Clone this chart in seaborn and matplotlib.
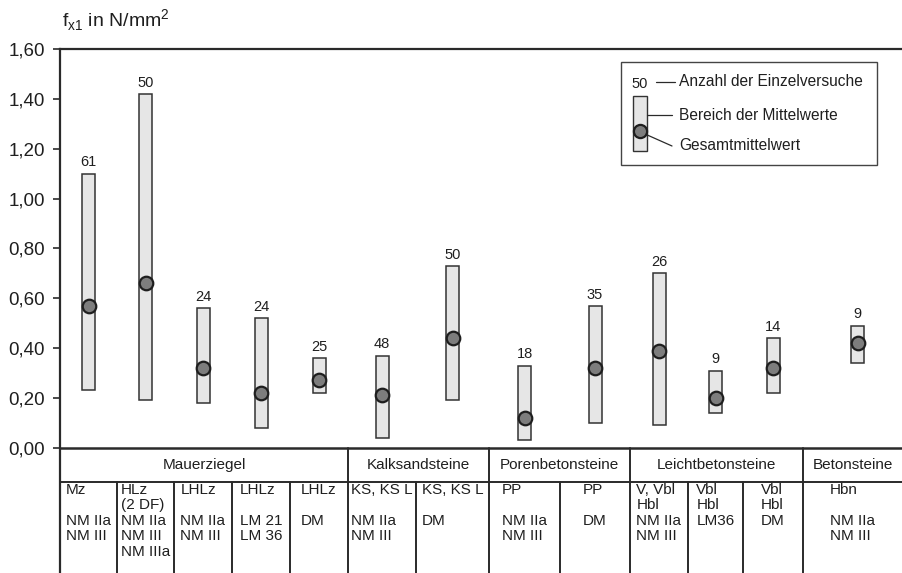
import numpy as np
import pandas as pd
import matplotlib.pyplot as plt
import seaborn as sns

# Daten: Bereich der Mittelwerte und Gesamtmittelwert je Steinart
n_versuche = [61, 50, 24, 24, 25, 48, 50, 18, 35, 26, 9, 14, 9]
bereich_min = [0.23, 0.19, 0.18, 0.08, 0.22, 0.04, 0.19, 0.03, 0.10, 0.09, 0.14, 0.22, 0.34]
bereich_max = [1.10, 1.42, 0.56, 0.52, 0.36, 0.37, 0.73, 0.33, 0.57, 0.70, 0.31, 0.44, 0.49]
mittelwert = [0.57, 0.66, 0.32, 0.22, 0.27, 0.21, 0.44, 0.12, 0.32, 0.39, 0.20, 0.32, 0.42]

gruppen = ['Mauerziegel', 'Kalksandsteine', 'Porenbetonsteine', 'Leichtbetonsteine', 'Betonsteine']
spalten_je_gruppe = [5, 2, 2, 3, 1]
spalten_text = [
    ['Mz', '', 'NM IIa', 'NM III'],
    ['HLz', '(2 DF)', 'NM IIa', 'NM III', 'NM IIIa'],
    ['LHLz', '', 'NM IIa', 'NM III'],
    ['LHLz', '', 'LM 21', 'LM 36'],
    ['LHLz', '', 'DM'],
    ['KS, KS L', '', 'NM IIa', 'NM III'],
    ['KS, KS L', '', 'DM'],
    ['PP', '', 'NM IIa', 'NM III'],
    ['PP', '', 'DM'],
    ['V, Vbl', 'Hbl', 'NM IIa', 'NM III'],
    ['Vbl', 'Hbl', 'LM36'],
    ['Vbl', 'Hbl', 'DM'],
    ['Hbn', '', 'NM IIa', 'NM III'],
]
yticks = [0.0, 0.2, 0.4, 0.6, 0.8, 1.0, 1.2, 1.4, 1.6]

# Layout (Spaltenbreiten der Tabelle in Pixel)
spalten_breite = [57, 57, 58, 58, 58, 68, 73, 71, 70, 58, 55, 60, 99]
kanten = np.concatenate([[0], np.cumsum(spalten_breite)])
pos = (kanten[:-1] + kanten[1:]) / 2
pos[-1] += 5  # letzter Balken sitzt etwas rechts der Spaltenmitte

df = pd.DataFrame({'pos': pos, 'low': bereich_min, 'high': bereich_max,
                   'mean': mittelwert, 'n': n_versuche})

sns.set_theme(style='white')
plt.rcParams['font.family'] = ['Liberation Sans', 'DejaVu Sans']

LC = '#2a2a2a'
TC = '#1f1f1f'
W, H = 902, 573
px_per_unit = 248.75
y_bottom = -(H - 448) / px_per_unit

fig = plt.figure(figsize=(W / 100, H / 100), dpi=100)
ax = fig.add_axes([60 / W, 0, 842 / W, (H - 49) / H])
ax.set_xlim(0, kanten[-1])
ax.set_ylim(y_bottom, 1.6)


def ypx(p):
    return -(p - 448) / px_per_unit


# Bereich der Mittelwerte
ax.bar(df['pos'], df['high'] - df['low'], bottom=df['low'], width=13,
       color='#e6e6e6', edgecolor='#333333', linewidth=1.1, zorder=2)
# Gesamtmittelwert
sns.scatterplot(data=df, x='pos', y='mean', ax=ax, s=95, color='#7d7d7d',
                edgecolor='#1e1e1e', linewidth=1.6, zorder=3, legend=False)
for _, r in df.iterrows():
    ax.annotate(str(int(r['n'])), (r['pos'], r['high']), xytext=(0, 3),
                textcoords='offset points', ha='center', va='bottom',
                fontsize=10.5, color=TC)

# Achsen
for s in ['right', 'bottom']:
    ax.spines[s].set_visible(False)
for s in ['left', 'top']:
    ax.spines[s].set_color(LC)
    ax.spines[s].set_linewidth(1.6)
ax.set_yticks(yticks)
ax.set_yticklabels([f'{v:.2f}'.replace('.', ',') for v in yticks])
ax.set_xticks([])
ax.tick_params(axis='y', direction='out', length=5, width=1.2, color=LC,
               labelsize=13.5, pad=6, left=True, labelcolor=TC)
ax.set_xlabel('')
ax.set_ylabel('')

# Tabelle unterhalb
ax.axhline(0, color=LC, lw=1.8, zorder=4)
ax.plot([0, kanten[-1]], [ypx(482), ypx(482)], color=LC, lw=1.4)
gruppen_kanten = np.concatenate([[0], np.cumsum(spalten_je_gruppe)])
for i, k in enumerate(kanten[1:-1], start=1):
    top = 0 if i in gruppen_kanten else ypx(482)
    ax.plot([k, k], [top, y_bottom], color=LC, lw=1.4)
for g, name in enumerate(gruppen):
    x0 = kanten[gruppen_kanten[g]]
    x1 = kanten[gruppen_kanten[g + 1]]
    ax.text((x0 + x1) / 2, ypx(465), name, ha='center', va='center',
            fontsize=11, color=TC)
for i, lines in enumerate(spalten_text):
    ax.text((kanten[i] + kanten[i + 1]) / 2, ypx(483), '\n'.join(lines),
            ha='center', va='top', multialignment='left', fontsize=11,
            color=TC, linespacing=1.14)

# y-Achsentitel
fig.text(62 / W, 1 - 27 / H,
         r'f$_{\mathregular{x1}}$ in N/mm$^{\mathregular{2}}$',
         fontsize=14, color=TC, va='baseline')


# Legende
def fp(x, y):
    return (x / W, 1 - y / H)


tf = fig.transFigure
fig.patches.append(plt.Rectangle(fp(621, 165), 256 / W, 103 / H, transform=tf,
                                 facecolor='white', edgecolor='#444444', lw=1.0))
fig.patches.append(plt.Rectangle(fp(633, 151), 14 / W, 55 / H, transform=tf,
                                 facecolor='#e6e6e6', edgecolor='#333333', lw=1.0))
fig.lines.append(plt.Line2D(*zip(fp(647, 115), fp(672, 115)), transform=tf,
                            color=LC, lw=0.9))
fig.lines.append(plt.Line2D(*zip(fp(656, 82), fp(675, 82)), transform=tf,
                            color=LC, lw=0.9))
fig.lines.append(plt.Line2D(*zip(fp(645, 134), fp(672, 146)), transform=tf,
                            color=LC, lw=0.9))
fig.lines.append(plt.Line2D([640 / W], [1 - 131 / H], transform=tf, marker='o',
                            ms=9.5, mfc='#7d7d7d', mec='#1e1e1e', mew=1.6))
fig.text(*fp(640, 84), '50', ha='center', va='center', fontsize=10.5, color=TC)
fig.text(*fp(679, 82), 'Anzahl der Einzelversuche', va='center', fontsize=11.2, color=TC)
fig.text(*fp(679, 115), 'Bereich der Mittelwerte', va='center', fontsize=11.2, color=TC)
fig.text(*fp(679, 146), 'Gesamtmittelwert', va='center', fontsize=11.2, color=TC)

fig.savefig('out.png', dpi=100)
